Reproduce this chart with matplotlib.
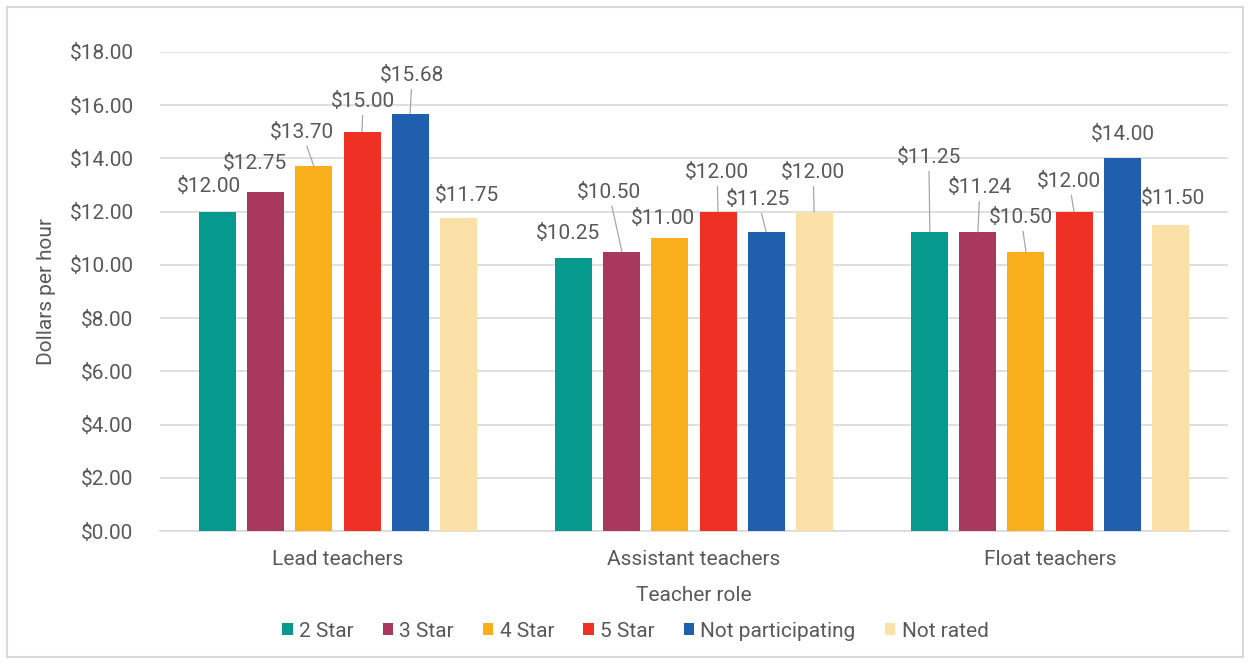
import matplotlib.pyplot as plt
import numpy as np
from matplotlib.patches import Rectangle

plt.rcParams["font.family"] = ["Roboto", "DejaVu Sans"]

roles = ["Lead teachers", "Assistant teachers", "Float teachers"]
ratings = ["2 Star", "3 Star", "4 Star", "5 Star", "Not participating", "Not rated"]
colors = ["#069A8E", "#A8385D", "#F9AE1B", "#EE3124", "#1F5FAD", "#FBE1A8"]

# hourly wage per rating, one value per teacher role
wage_2_star = [12.00, 10.25, 11.25]
wage_3_star = [12.75, 10.50, 11.24]
wage_4_star = [13.70, 11.00, 10.50]
wage_5_star = [15.00, 12.00, 12.00]
wage_not_participating = [15.68, 11.25, 14.00]
wage_not_rated = [11.75, 12.00, 11.50]

series = [wage_2_star, wage_3_star, wage_4_star, wage_5_star,
          wage_not_participating, wage_not_rated]

# data label offsets in pixels (dx, dy) from each bar top, per rating then role
label_offsets = [
    [(-9, 25), (-6, 25), (-1, 74)],
    [(-11, 28), (-13, 59), (2, 44)],
    [(-12, 34), (-7, 20), (-5, 34)],
    [(1, 30), (-1, 39), (-5, 30)],
    [(2, 38), (-8, 32), (1, 24)],
    [(9, 23), (-1, 39), (3, 26)],
]

text_color = "#595959"
grid_color = "#D9D9D9"
fs = 15

fig = plt.figure(figsize=(12.5, 6.64), dpi=100)
ax = fig.add_axes([0.128, 0.2003, 0.8544, 0.7214])

x = np.arange(len(roles))
width = 0.104
step = 0.135

for i, (name, values, color) in enumerate(zip(ratings, series, colors)):
    pos = x + (i - 2.5) * step
    ax.bar(pos, values, width=width, color=color, label=name, zorder=3)
    for j, (px, val) in enumerate(zip(pos, values)):
        dx, dy = label_offsets[i][j]
        arrow = None
        if dy > 28:
            arrow = dict(arrowstyle="-", color="#A6A6A6", lw=0.9,
                         shrinkA=1, shrinkB=0)
        ax.annotate(f"${val:.2f}", xy=(px, val), xytext=(dx, dy),
                    textcoords="offset pixels", ha="center", va="center",
                    fontsize=fs, color=text_color, arrowprops=arrow, zorder=4)

ax.set_xlim(-0.5, 2.5)
ax.set_ylim(0, 18)
ax.set_yticks(np.arange(0, 19, 2))
ax.yaxis.set_major_formatter(lambda v, p: f"${v:.2f}")
ax.set_xticks(x)
ax.set_xticklabels(roles)
ax.tick_params(axis="both", length=0, labelsize=fs, colors=text_color)
ax.tick_params(axis="y", pad=19)
ax.tick_params(axis="x", pad=14)
ax.grid(axis="y", color=grid_color, lw=1.2, zorder=0)
for side in ["top", "right", "left"]:
    ax.spines[side].set_visible(False)
ax.spines["bottom"].set_color(grid_color)
ax.spines["bottom"].set_linewidth(1.2)

ax.set_ylabel("Dollars per hour", fontsize=fs, color=text_color, labelpad=10)
ax.set_xlabel("Teacher role", fontsize=fs, color=text_color, labelpad=12)

ax.legend(loc="center", bbox_to_anchor=(0.445, -0.209), ncol=6,
          frameon=False, fontsize=fs, labelcolor=text_color,
          handlelength=0.5, handleheight=0.5, handletextpad=0.3,
          columnspacing=1.4)

fig.patches.append(Rectangle((7 / 1250, 7 / 664), 1236 / 1250, 650 / 664,
                             transform=fig.transFigure, fill=False,
                             edgecolor="#D9D9D9", lw=1.5))

fig.savefig("out.png", dpi=100)
